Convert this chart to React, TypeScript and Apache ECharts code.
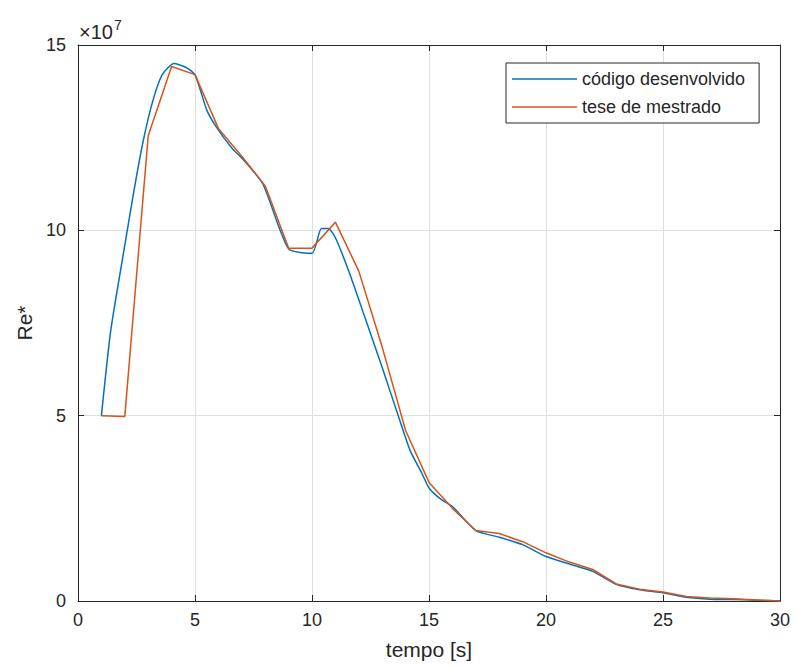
import React, { useEffect, useRef } from "react";
import * as echarts from "echarts";

// time [s] and Re* (in units of 10^7)
const codigoT = [1, 1.4, 2.0, 2.4, 2.8, 3.2, 3.6, 4.1, 4.6, 5.0, 5.5, 5.9, 6.6, 7.0, 7.9, 9.0, 10.0, 10.4, 10.7, 11.0, 11.6, 12.3, 13.0, 13.7, 14.2, 14.7, 15.0, 15.5, 16.0, 17.0, 18.0, 19.0, 20.0, 21.0, 22.0, 23.0, 24.0, 25.0, 26.0, 27.0, 28.0, 29.0, 30.0];
const codigoY = [5.0, 7.3, 9.6, 11.1, 12.45, 13.5, 14.2, 14.5, 14.4, 14.2, 13.25, 12.8, 12.2, 11.95, 11.25, 9.5, 9.38, 10.05, 10.05, 9.8, 8.85, 7.58, 6.3, 4.97, 4.05, 3.44, 3.05, 2.75, 2.55, 1.9, 1.72, 1.52, 1.2, 1.0, 0.8, 0.45, 0.3, 0.22, 0.1, 0.05, 0.04, 0.02, 0];

const teseT = [1, 2, 3, 4, 5, 6, 7, 8, 9, 10, 11, 12, 13, 14, 15, 16, 17, 18, 19, 20, 21, 22, 23, 24, 25, 26, 27, 28, 29, 30];
const teseY = [5.0, 4.98, 12.55, 14.42, 14.2, 12.75, 12.0, 11.2, 9.52, 9.52, 10.22, 8.9, 6.85, 4.6, 3.2, 2.5, 1.9, 1.82, 1.6, 1.3, 1.05, 0.85, 0.46, 0.32, 0.24, 0.12, 0.08, 0.06, 0.03, 0];

const seriesNames = ["código desenvolvido", "tese de mestrado"];
const xTicks = { min: 0, max: 30, interval: 5 };
const yTicks = { min: 0, max: 15, interval: 5 };

const AX = "#262626";
const FONT = "Liberation Sans, Arial, Helvetica, sans-serif";

export default function App() {
  const ref = useRef<HTMLDivElement>(null);
  useEffect(() => {
    if (!ref.current) return;
    const chart = echarts.init(ref.current, undefined, { renderer: "svg" });
    const axisCommon = {
      axisLine: { show: true, onZero: false, lineStyle: { color: AX, width: 1 } },
      axisTick: { show: true, inside: true, length: 6, lineStyle: { color: AX } },
    };
    chart.setOption({
      animation: false,
      backgroundColor: "#ffffff",
      textStyle: { fontFamily: FONT },
      grid: { left: 78, right: 16, top: 45, bottom: 67, containLabel: false },
      legend: {
        left: 506,
        top: 63,
        orient: "vertical",
        data: seriesNames.map((n) => ({ name: n, icon: "rect" })),
        itemWidth: 65,
        itemHeight: 1.5,
        itemGap: 8,
        padding: [6, 14, 6, 6],
        borderColor: AX,
        borderWidth: 1,
        backgroundColor: "#ffffff",
        textStyle: { fontSize: 18, color: AX, fontFamily: FONT, lineHeight: 20 },
      },
      xAxis: [
        {
          type: "value",
          position: "bottom",
          ...xTicks,
          ...axisCommon,
          axisLabel: { fontSize: 18, color: AX, margin: 10, fontFamily: FONT },
          splitLine: { show: true, lineStyle: { color: "#dfdfdf", width: 1 } },
          name: "tempo [s]",
          nameLocation: "middle",
          nameGap: 38,
          nameTextStyle: { fontSize: 21, color: AX, fontFamily: FONT },
        },
        {
          type: "value",
          position: "top",
          ...xTicks,
          ...axisCommon,
          axisLabel: { show: false },
          splitLine: { show: false },
        },
      ],
      yAxis: [
        {
          type: "value",
          position: "left",
          ...yTicks,
          ...axisCommon,
          axisLabel: { fontSize: 18, color: AX, margin: 12, fontFamily: FONT },
          splitLine: { show: true, lineStyle: { color: "#dfdfdf", width: 1 } },
          name: "Re*",
          nameLocation: "middle",
          nameGap: 40,
          nameRotate: 90,
          nameTextStyle: { fontSize: 21, color: AX, fontFamily: FONT },
        },
        {
          type: "value",
          position: "right",
          ...yTicks,
          ...axisCommon,
          axisLabel: { show: false },
          splitLine: { show: false },
        },
      ],
      graphic: [
        {
          type: "text",
          left: 79,
          top: 18,
          style: {
            text: "{b|×10}{s|7}",
            rich: {
              b: { fontSize: 20, fill: AX, fontFamily: FONT, lineHeight: 24, verticalAlign: "bottom" },
              s: { fontSize: 14, fill: AX, fontFamily: FONT, lineHeight: 24, verticalAlign: "top", padding: [0, 0, 0, 1] },
            },
            fill: AX,
          },
        },
      ],
      series: [
        {
          name: seriesNames[0],
          type: "line",
          xAxisIndex: 0,
          yAxisIndex: 0,
          data: codigoT.map((t, i) => [t, codigoY[i]]),
          showSymbol: false,
          symbol: "none",
          smooth: 0.2,
          lineStyle: { color: "#0072BD", width: 1.5 },
          itemStyle: { color: "#0072BD" },
        },
        {
          name: seriesNames[1],
          type: "line",
          xAxisIndex: 0,
          yAxisIndex: 0,
          data: teseT.map((t, i) => [t, teseY[i]]),
          showSymbol: false,
          symbol: "none",
          lineStyle: { color: "#D95319", width: 1.5 },
          itemStyle: { color: "#D95319" },
        },
      ],
    });
    return () => chart.dispose();
  }, []);
  return (
    <div
      ref={ref}
      style={{ position: "fixed", left: 0, top: 0, width: 796, height: 668, background: "#fff" }}
    />
  );
}
